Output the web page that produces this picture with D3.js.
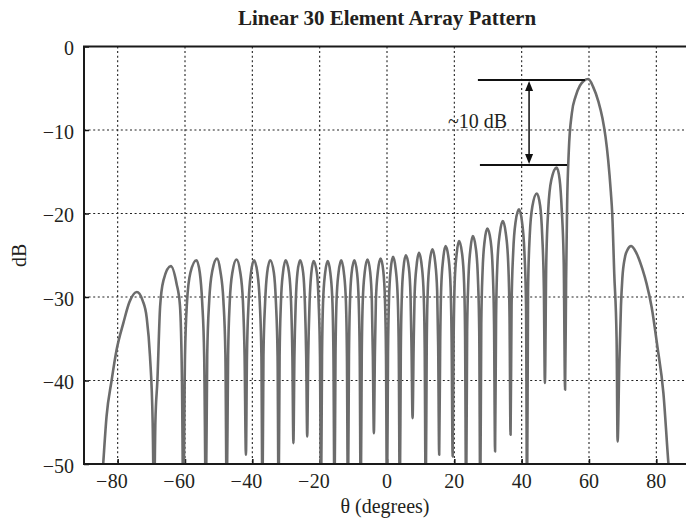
<!DOCTYPE html>
<html><head><meta charset="utf-8">
<script src="https://cdn.jsdelivr.net/npm/d3@7"></script>
<style>
body{margin:0;background:#fff}
text{font-family:"Liberation Serif","Times New Roman",serif;fill:#231f20}
</style>
</head><body>
<svg id="chart" width="686" height="522"></svg>
<script>
// ---- data ----
const thetaDeg = [
  -84.8,-84.3,-83.3,-81.8,-80.3,-78.3,-76.5,-74.3,-72.6,-71.4,-70.4,-69.6,-69.2,
  -68.8,-68.2,-67.4,-66.4,-64.2,-62.5,-61.5,-60.9,
  -60.5,-60.0,-59.4,-58.4,-56.6,-55.6,-54.9,-54.3,
  -53.8,-53.4,-52.8,-51.9,-50.5,-49.5,-48.6,-48.0,
  -47.6,-47.2,-46.7,-45.9,-44.7,-43.6,-42.8,-42.3,
  -41.9,-41.6,-41.1,-40.4,-39.5,-38.5,-37.8,-37.3,
  -37.0,-36.7,-36.2,-35.6,-34.7,-33.6,-33.0,-32.5,
  -32.2,-31.9,-31.5,-30.9,-30.1,-29.1,-28.5,-28.1,
  -27.8,-27.5,-27.1,-26.6,-25.8,-24.9,-24.4,-24.0,
  -23.7,-23.4,-23.0,-22.5,-21.8,-20.8,-20.3,-19.9,
  -19.6,-19.3,-19.0,-18.4,-17.6,-16.8,-16.2,-15.9,
  -15.6,-15.3,-15.0,-14.4,-13.6,-12.8,-12.2,-11.9,
  -11.6,-11.3,-11.0,-10.5,-9.7,-8.9,-8.4,-8.1,
  -7.8,-7.5,-7.2,-6.6,-5.8,-5.0,-4.5,-4.2,
  -3.9,-3.6,-3.3,-2.7,-1.9,-1.1,-0.6,-0.3,
  0.0,0.3,0.6,1.1,1.8,2.6,3.2,3.5,
  3.8,4.1,4.4,4.9,5.6,6.5,7.0,7.3,
  7.6,7.9,8.2,8.8,9.5,10.3,10.9,11.2,
  11.5,11.8,12.1,12.7,13.5,14.3,14.9,15.2,
  15.5,15.8,16.1,16.7,17.4,18.3,18.9,19.2,
  19.5,19.8,20.1,20.7,21.4,22.3,22.9,23.2,
  23.5,23.8,24.2,24.8,25.5,26.4,27.0,27.4,
  27.7,28.0,28.4,29.0,29.8,30.8,31.4,31.8,
  32.1,32.4,32.8,33.5,34.4,35.3,36.0,36.4,
  36.7,37.0,37.5,38.2,39.2,40.1,40.8,41.3,
  41.6,41.9,42.4,43.2,44.5,45.5,46.1,46.6,
  46.9,47.3,47.9,48.8,50.4,51.3,51.9,52.5,
  52.9,53.2,53.5,54.0,54.9,56.0,57.3,58.5,59.8,61.2,62.8,64.0,64.9,65.7,66.5,66.9,67.5,68.2,68.5,
  69.0,69.5,69.9,70.7,71.5,72.5,73.5,74.6,75.9,77.1,78.6,80.3,82.1,83.6,84.0
];
const levelDb = [
  -53,-50,-44.3,-40,-36.3,-33.1,-30.6,-29.4,-30.4,-32.4,-37.1,-45.1,-55,
  -45,-40,-31.2,-28.0,-26.3,-28.4,-31.0,-40,
  -55,-37.1,-30.6,-27.1,-25.6,-27.1,-30.6,-37.1,
  -55,-36.9,-30.4,-26.9,-25.4,-26.9,-30.4,-36.9,
  -55,-37.0,-30.5,-27.0,-25.5,-27.0,-30.5,-37.0,
  -48.9,-37.1,-30.6,-27.1,-25.6,-27.1,-30.6,-37.1,
  -55,-37.1,-30.6,-27.1,-25.6,-27.1,-30.6,-37.1,
  -55,-37.1,-30.6,-27.1,-25.6,-27.1,-30.6,-37.1,
  -47.5,-37.1,-30.6,-27.1,-25.6,-27.1,-30.6,-37.1,
  -46.7,-37.2,-30.7,-27.2,-25.7,-27.2,-30.7,-37.2,
  -55,-37.2,-30.7,-27.2,-25.7,-27.2,-30.7,-37.2,
  -55,-37.1,-30.6,-27.1,-25.6,-27.1,-30.6,-37.1,
  -55,-37.1,-30.6,-27.1,-25.6,-27.1,-30.6,-37.1,
  -55,-37.0,-30.5,-27.0,-25.5,-27.0,-30.5,-37.0,
  -46.3,-36.9,-30.4,-26.9,-25.4,-26.9,-30.4,-36.9,
  -55,-36.7,-30.2,-26.7,-25.2,-26.7,-30.2,-36.7,
  -55,-36.5,-30.0,-26.5,-25.0,-26.5,-30.0,-36.5,
  -44.5,-36.2,-29.7,-26.2,-24.7,-26.2,-29.7,-36.2,
  -55,-35.8,-29.3,-25.8,-24.3,-25.8,-29.3,-35.8,
  -48.9,-35.4,-28.9,-25.4,-23.9,-25.4,-28.9,-35.4,
  -49.1,-34.8,-28.3,-24.8,-23.3,-24.8,-28.3,-34.8,
  -55,-34.2,-27.7,-24.2,-22.7,-24.2,-27.7,-34.2,
  -55,-33.3,-26.8,-23.3,-21.8,-23.3,-26.8,-33.3,
  -48.5,-32.4,-25.9,-22.4,-20.9,-22.4,-25.9,-32.4,
  -46.5,-31.0,-24.5,-21.0,-19.5,-21.0,-24.5,-31.0,
  -55,-29.1,-22.6,-19.1,-17.6,-19.1,-22.6,-29.1,
  -40.3,-26.0,-19.5,-16.0,-14.5,-16.0,-19.5,-26.0,
  -41.1,-28,-19,-12.5,-8.0,-6.0,-4.7,-4.1,-3.9,-4.8,-6.6,-8.6,-10.8,-13.6,-17.5,-20,-27.2,-35.1,-47.3,
  -38,-31,-27.8,-25.2,-24.3,-23.9,-24.3,-25.2,-26.7,-28.4,-31.2,-35.9,-41.5,-50,-52
];
const xTicks = [-80,-60,-40,-20,0,20,40,60,80];
const yTicks = [0,-10,-20,-30,-40,-50];
const yGrid = [-10,-20,-30,-40];
const xDomain = [-90, 90];
const yDomain = [-50, 0];
const titleText = "Linear 30 Element Array Pattern";
const xLabelText = "θ (degrees)";
const yLabelText = "dB";
// annotation (data units)
const annotLabel = "~10 dB";
const annotMainDb = -4.0, annotSideDb = -14.2;
const annotTopSpan = [27.0, 58.8], annotBotSpan = [27.6, 53.5];
const annotArrowTheta = 42.2;
const annotTextTheta = 18.1, annotTextDb = -9.8;

// ---- drawing ----
const svg = d3.select("#chart");
const L = 84, R = 690, T = 46.5, B = 464;
const x = d3.scaleLinear().domain(xDomain).range([L, R]);
const y = d3.scaleLinear().domain(yDomain).range([B, T]);
const minus = "\u2212";

svg.append("defs").append("clipPath").attr("id","plotclip")
  .append("rect").attr("x",L).attr("y",T).attr("width",R-L).attr("height",B-T);

// grid
const grid = svg.append("g").attr("stroke","#222").attr("stroke-width",1.1).attr("stroke-dasharray","2,2.6").attr("fill","none");
grid.selectAll("line.v").data(xTicks).join("line").attr("class","v")
  .attr("x1",d=>x(d)).attr("x2",d=>x(d)).attr("y1",y(0)).attr("y2",y(-50));
grid.selectAll("line.h").data(yGrid).join("line").attr("class","h")
  .attr("x1",L).attr("x2",R).attr("y1",d=>y(d)).attr("y2",d=>y(d));

// axes ticks (inward) via d3 axes
const xAxis = svg.append("g").attr("transform",`translate(0,${B})`)
  .call(d3.axisBottom(x).tickValues(xTicks).tickSize(-5).tickFormat(""));
const yAxis = svg.append("g").attr("transform",`translate(${L},0)`)
  .call(d3.axisLeft(y).tickValues(yTicks).tickSize(-5).tickFormat(""));
[xAxis,yAxis].forEach(a=>{ a.select(".domain").remove(); a.selectAll("line").attr("stroke","#111").attr("stroke-width",1.5); });

// curve
const pts = thetaDeg.map((t,i)=>[t, levelDb[i]]);
const line = d3.line().x(d=>x(d[0])).y(d=>y(d[1])).curve(d3.curveMonotoneX);
svg.append("path").attr("clip-path","url(#plotclip)").datum(pts)
  .attr("d",line).attr("fill","none").attr("stroke","#6c6c6c")
  .attr("stroke-width",2.6).attr("stroke-linejoin","round");

// frame
svg.append("path").attr("d",`M${R+5},${T}H${L}V${B}H${R+5}`)
  .attr("fill","none").attr("stroke","#1a1a1a").attr("stroke-width",2);

// x tick labels: digits centred on tick, minus hanging left
const fs = 20;
xTicks.forEach(t=>{
  const s = String(Math.abs(t));
  const tx = svg.append("text").attr("x",x(t)).attr("y",487.5).attr("text-anchor","middle")
    .attr("font-size",fs).text(s);
  if (t<0){
    const w = tx.node().getComputedTextLength();
    svg.append("text").attr("x",x(t)-w/2-0.5).attr("y",487.5).attr("text-anchor","end")
      .attr("font-size",fs).text(minus);
  }
});
// y tick labels
yTicks.forEach(v=>{
  svg.append("text").attr("x",74).attr("y",y(v)+8.5).attr("text-anchor","end")
    .attr("font-size",fs).text(v<0? minus+Math.abs(v) : String(v));
});

// title & axis titles
svg.append("text").attr("x",(L+R)/2).attr("y",25).attr("text-anchor","middle")
  .attr("font-size",21).attr("font-weight","bold").text(titleText);
svg.append("text").attr("x",385).attr("y",513).attr("text-anchor","middle")
  .attr("font-size",fs).text(xLabelText);
svg.append("text").attr("transform",`translate(26,${(T+B)/2}) rotate(-90)`)
  .attr("text-anchor","middle").attr("font-size",fs).text(yLabelText);

// annotation
const ann = svg.append("g");
ann.append("line").attr("x1",x(annotTopSpan[0])).attr("x2",x(annotTopSpan[1]))
  .attr("y1",y(annotMainDb)).attr("y2",y(annotMainDb)).attr("stroke","#111").attr("stroke-width",2);
ann.append("line").attr("x1",x(annotBotSpan[0])).attr("x2",x(annotBotSpan[1]))
  .attr("y1",y(annotSideDb)).attr("y2",y(annotSideDb)).attr("stroke","#111").attr("stroke-width",2);
const ax = x(annotArrowTheta), ay1 = y(annotMainDb)+1, ay2 = y(annotSideDb)-1;
ann.append("line").attr("x1",ax).attr("x2",ax).attr("y1",ay1+6).attr("y2",ay2-6)
  .attr("stroke","#111").attr("stroke-width",1.5);
ann.append("path").attr("d",`M${ax},${ay1}L${ax-4},${ay1+10}L${ax+4},${ay1+10}Z`).attr("fill","#111");
ann.append("path").attr("d",`M${ax},${ay2}L${ax-4},${ay2-10}L${ax+4},${ay2-10}Z`).attr("fill","#111");
ann.append("text").attr("x",x(annotTextTheta)).attr("y",y(annotTextDb)).attr("font-size",fs).text(annotLabel);
</script>
</body></html>
